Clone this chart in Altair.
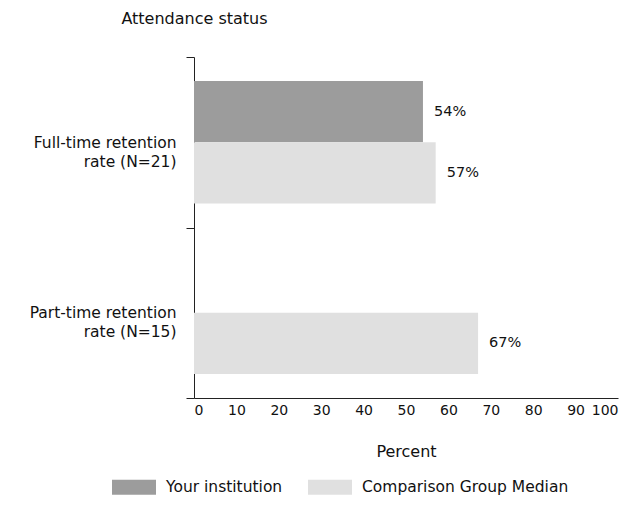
import altair as alt
import pandas as pd

categories = ["Full-time retention rate (N=21)", "Full-time retention rate (N=21)",
              "Part-time retention rate (N=15)"]
series = ["Your institution", "Comparison Group Median", "Comparison Group Median"]
values = [54, 57, 67]

cat_order = ["Full-time retention rate (N=21)", "Part-time retention rate (N=15)"]
series_order = ["Your institution", "Comparison Group Median"]
series_colors = ["#9c9c9c", "#e0e0e0"]
x_ticks = [0, 10, 20, 30, 40, 50, 60, 70, 80, 90, 100]

df = pd.DataFrame({"category": categories, "series": series, "value": values})
df["label"] = df["value"].astype(str) + "%"

FONT = "DejaVu Sans"

y_enc = alt.Y(
    "category:N",
    sort=cat_order,
    scale=alt.Scale(domain=cat_order, paddingInner=0, paddingOuter=0),
    axis=alt.Axis(
        title="Attendance status",
        titleAngle=0,
        titleAlign="center",
        titleBaseline="middle",
        titleX=0,
        titleY=-39,
        titleFontWeight="normal",
        titleFontSize=16,
        titleFont=FONT,
        titleColor="#111111",
        labelExpr="split(replace(datum.label, ' rate (', '|rate ('), '|')",
        labelFontSize=15.5,
        labelFont=FONT,
        labelColor="#111111",
        labelLineHeight=19,
        labelPadding=10,
        labelAlign="right",
        labelLimit=300,
        tickBand="extent",
        tickSize=8,
        tickColor="#222222",
        domainColor="#222222",
        grid=False,
    ),
)

yoff_enc = alt.YOffset("series:N", sort=series_order,
                       scale=alt.Scale(domain=series_order, paddingInner=0, paddingOuter=0.39))

bars = alt.Chart(df).mark_bar().encode(
    x=alt.X(
        "value:Q",
        scale=alt.Scale(domain=[0, 100], nice=False),
        axis=alt.Axis(
            title="Percent",
            values=x_ticks,
            ticks=False,
            grid=False,
            labelFontSize=14,
            labelFont=FONT,
            labelColor="#111111",
            labelPadding=5,
            titleFontSize=16,
            titleFont=FONT,
            titleFontWeight="normal",
            titleColor="#111111",
            titlePadding=26,
            domainColor="#222222",
        ),
    ),
    y=y_enc,
    yOffset=yoff_enc,
    color=alt.Color(
        "series:N",
        sort=series_order,
        scale=alt.Scale(domain=series_order, range=series_colors),
        legend=alt.Legend(
            title=None,
            orient="none",
            direction="horizontal",
            legendX=-82,
            legendY=408,
            symbolType="M-1,-0.34H1V0.34H-1Z",
            symbolSize=1936,
            symbolStrokeWidth=0,
            symbolOpacity=1,
            labelFontSize=15.5,
            labelFont=FONT,
            labelColor="#111111",
            labelOffset=10,
            labelLimit=400,
            columnPadding=25,
        ),
    ),
)

text = alt.Chart(df).mark_text(align="left", baseline="middle", dx=11,
                               fontSize=14.5, font=FONT, color="#111111").encode(
    x="value:Q",
    y=alt.Y("category:N", sort=cat_order),
    yOffset=alt.YOffset("series:N", sort=series_order),
    text="label:N",
)

chart = (bars + text).properties(
    width=424,
    height=341,
    autosize=alt.AutoSizeParams(type="none"),
    padding={"left": 186, "top": 49, "right": 8, "bottom": 108},
).configure(background="white", view=alt.ViewConfig(stroke="transparent"))

chart.save("out.html", embed_options={"renderer": "svg", "actions": False})
